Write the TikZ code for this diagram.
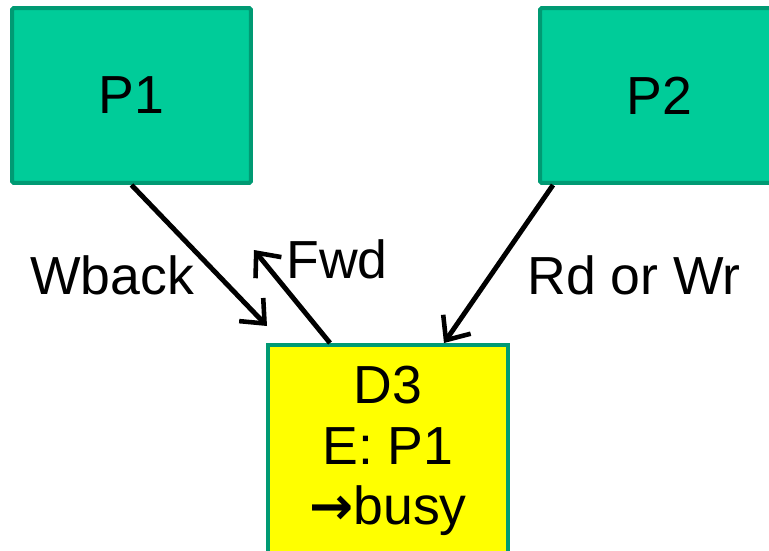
\documentclass[tikz,border=0pt]{standalone}
\usepackage{fontspec}
\setmainfont{Liberation Sans}
\newfontfamily\arrowfont{DejaVu Sans}
\usetikzlibrary{positioning, arrows.meta}

\definecolor{procgreen}{HTML}{00CC99}
\definecolor{edgegreen}{HTML}{009A73}
\definecolor{dirfill}{HTML}{FFFF00}

\begin{document}
\begin{tikzpicture}[
            x=0.02cm, y=-0.02cm,
            >={Straight Barb[length=11pt, width=19pt, line width=2.6pt]},
            font=\fontsize{30.5}{34.5}\selectfont,
            proc/.style={draw=edgegreen, line width=0.08cm, fill=procgreen, rounded corners=1pt,
                         minimum width=4.78cm, minimum height=3.5cm, inner sep=0pt},
            dir/.style={draw=edgegreen, line width=0.08cm, fill=dirfill, align=center,
                        minimum width=4.8cm, minimum height=4.24cm, inner sep=0pt},
            msg/.style={line width=2.8pt, ->},
            lbl/.style={anchor=base},
        ]
            \useasboundingbox (0,0) rectangle (769,551);

            % Processors and the directory entry
            \node[proc] (P1) at (131.5,95.5) {P1};
            \node[proc] (P2) at (659.5,95.5) {P2};
            \node[dir] (D3) at (388,451) {D3\\E: P1\\{\arrowfont\bfseries\fontsize{30}{34.5}\selectfont →}busy};

            % Free ends of the arrows
            \coordinate (wb-end) at (267,326);
            \coordinate (fwd-end) at (254,250);

            % Messages
            \draw[msg] (P1.south) -- (wb-end);
            \draw[msg] ([xshift=-1.16cm]D3.north) -- (fwd-end);
            \draw[msg] ([xshift=0.3cm]P2.south west) -- ([xshift=1.12cm]D3.north);

            % Labels
            \node[lbl] (l-wback) at (112,295) {Wback};
            \node[lbl] (l-fwd) at (337,278) {Fwd};
            \node[lbl] (l-rdwr) at (634,295) {Rd or Wr};
        \end{tikzpicture}
\end{document}
